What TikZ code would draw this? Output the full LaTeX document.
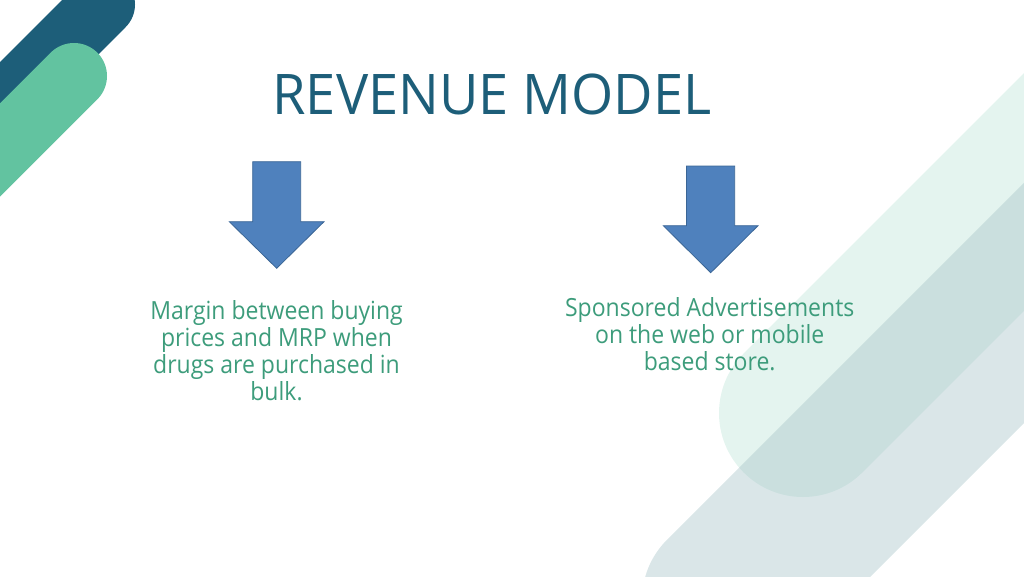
\documentclass[tikz,border=0pt]{standalone}
\usepackage{fontspec}
\setmainfont{Open Sans}
\newfontfamily\titlefont[FakeStretch=0.967]{Open Sans}
\newfontfamily\bodyfont[FakeStretch=0.92]{Open Sans}
\definecolor{titleteal}{HTML}{1D5E79}
\definecolor{darkband}{HTML}{1D5E79}
\definecolor{greenband}{HTML}{62C3A0}
\definecolor{mintband}{HTML}{E4F4EF}
\definecolor{greyband}{HTML}{A3C1C6}
\definecolor{textgreen}{HTML}{3D9C7B}
\definecolor{arrowblue}{HTML}{4F81BD}
\definecolor{arrowedge}{HTML}{3A6595}
\tikzset{
	blockarrow/.style={fill=arrowblue, draw=arrowedge, line width=0.8pt, line join=miter},
	bodytext/.style={font=\bodyfont\fontsize{25}{26.7}\selectfont, text=textgreen,
		align=center, anchor=base}
}
\begin{document}
\begin{tikzpicture}[x=1pt, y=-1pt]
				\useasboundingbox (0,0) rectangle (1024,576);
				\begin{scope}
				\clip (0,0) rectangle (1024,576);
				\draw[line width=64pt, line cap=round, darkband] (103,4.5) -- (-250,357.5);
				\draw[line width=66pt, line cap=round, greenband] (74,76) -- (-250,400);
				\draw[line width=168pt, line cap=round, mintband] (803,413) -- (1353,-137);
				\draw[line width=170pt, line cap=round, greyband, draw opacity=0.4] (727,600) -- (1327,0);
				\end{scope}
				\node[font=\titlefont\fontsize{56}{60}\selectfont, text=titleteal, anchor=base] (title) at (492,114) {REVENUE MODEL};
				\draw[blockarrow] (252.7,161.7) -- (300.7,161.7) -- (300.7,221.7) -- (324,221.7)
					-- (276.7,268.3) -- (229.3,221.7) -- (252.7,221.7) -- cycle;
				\draw[blockarrow] (686.5,166) -- (734.7,166) -- (734.7,225.7) -- (758,225.7)
					-- (710.7,272.7) -- (663.3,225.7) -- (686.5,225.7) -- cycle;
				\node[bodytext] (margin) at (276.5,400) {Margin between buying\\prices and MRP when\\drugs are purchased in\\bulk.};
				\node[bodytext] (ads) at (709.7,370) {Sponsored Advertisements\\on the web or mobile\\based store.};
			\end{tikzpicture}
\end{document}
